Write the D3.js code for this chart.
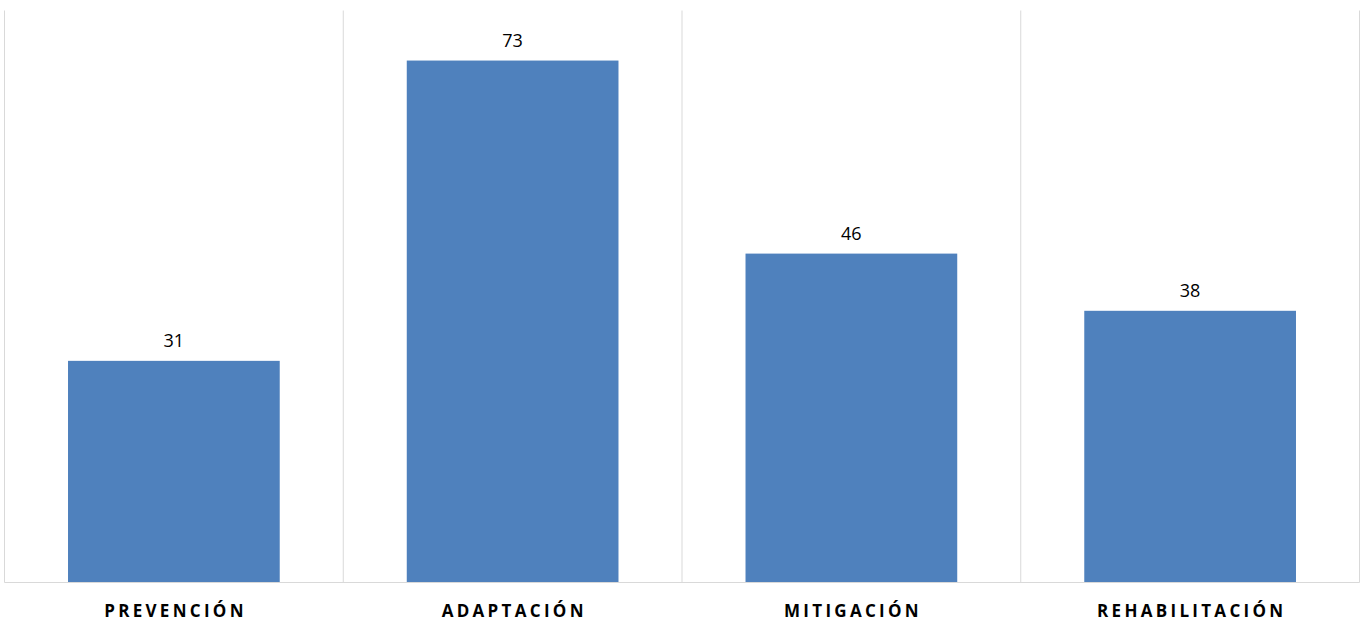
<!DOCTYPE html>
<html><head><meta charset="utf-8">
<script src="https://cdn.jsdelivr.net/npm/d3@7"></script>
<style>body{margin:0;background:#fff}svg{display:block}</style>
</head><body>
<svg id="c" width="1365" height="624"></svg>
<script>
const categories = ["PREVENCIÓN", "ADAPTACIÓN", "MITIGACIÓN", "REHABILITACIÓN"];
const values = [31, 73, 46, 38];
const yDomain = [0, 80];

const svg = d3.select("#c");
const plotLeft = 4.5, plotRight = 1359.5, plotTop = 10.5, plotBottom = 582.5;

const x = d3.scaleBand().domain(categories).range([plotLeft, plotRight]).paddingInner(0.375).paddingOuter(0.1875);
const y = d3.scaleLinear().domain(yDomain).range([plotBottom, plotTop]);

// vertical category separators
const sepXs = d3.range(categories.length + 1).map(i => plotLeft + i * x.step());
svg.append("g").selectAll("line").data(sepXs).join("line")
  .attr("x1", d => d).attr("x2", d => d)
  .attr("y1", plotTop).attr("y2", plotBottom)
  .attr("stroke", "#d9d9d9").attr("stroke-width", 1);

// bars
svg.append("g").selectAll("rect").data(values).join("rect")
  .attr("x", (d, i) => x(categories[i]))
  .attr("width", x.bandwidth())
  .attr("y", d => y(d))
  .attr("height", d => y(0) - y(d))
  .attr("fill", "#4f81bd");

// baseline axis
const xAxis = d3.axisBottom(x).tickSize(0).tickPadding(0);
const ax = svg.append("g").attr("transform", `translate(0,${plotBottom})`).call(xAxis);
ax.select(".domain").attr("stroke", "#d9d9d9").attr("d", `M${plotLeft},0H${plotRight}`);
ax.selectAll("text")
  .attr("dy", 0).attr("y", 34)
  .attr("font-family", "'Open Sans', 'Noto Sans', sans-serif")
  .attr("font-size", 17).attr("font-weight", "bold")
  .attr("letter-spacing", "3.3px")
  .attr("fill", "#000")
  .attr("dx", "1.6px");

// value labels
svg.append("g").selectAll("text").data(values).join("text")
  .attr("x", (d, i) => x(categories[i]) + x.bandwidth() / 2)
  .attr("y", d => y(d) - 13.5)
  .attr("text-anchor", "middle")
  .attr("font-family", "'Open Sans', 'Noto Sans', sans-serif")
  .attr("font-size", 18)
  .attr("fill", "#000")
  .text(d => d);
</script>
</body></html>
